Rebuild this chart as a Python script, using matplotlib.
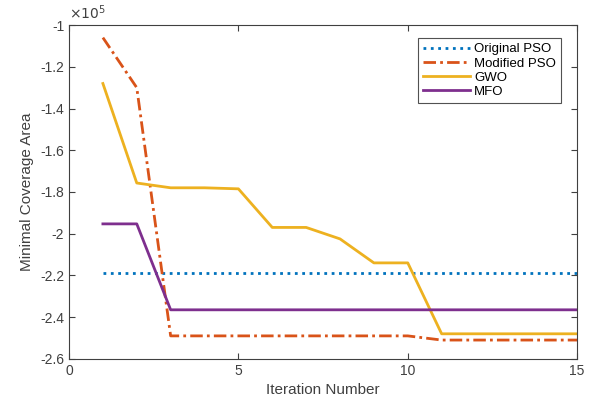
import matplotlib.pyplot as plt
from matplotlib.ticker import FuncFormatter

plt.rcParams['font.family'] = ['Liberation Sans', 'DejaVu Sans']
plt.rcParams['axes.unicode_minus'] = False

# values in units of 1e5
iterations = list(range(1, 16))
original_pso = [-2.19] * 15
modified_pso = [-1.06, -1.30, -2.49, -2.49, -2.49, -2.49, -2.49, -2.49, -2.49, -2.49,
                -2.51, -2.51, -2.51, -2.51, -2.51]
gwo = [-1.28, -1.757, -1.78, -1.78, -1.785, -1.97, -1.97, -2.025, -2.14, -2.14,
       -2.48, -2.48, -2.48, -2.48, -2.48]
mfo = [-1.953, -1.953, -2.365, -2.365, -2.365, -2.365, -2.365, -2.365, -2.365, -2.365,
       -2.365, -2.365, -2.365, -2.365, -2.365]
yticks = [-1, -1.2, -1.4, -1.6, -1.8, -2, -2.2, -2.4, -2.6]

fig = plt.figure(figsize=(5.95, 4.05), dpi=100)
ax = fig.add_axes([0.116, 0.114, 0.854, 0.824])

ax.plot(iterations, original_pso, linestyle=':', color='#0072BD', linewidth=2, label='Original PSO')
ax.plot(iterations, modified_pso, linestyle='-.', dashes=(4.5, 1.5, 1, 1.5), color='#D95319',
        linewidth=2, label='Modified PSO')
ax.plot(iterations, gwo, linestyle='-', color='#EDB120', linewidth=2, label='GWO')
ax.plot(iterations, mfo, linestyle='-', color='#7E2F8E', linewidth=2, label='MFO')

ax.set_xlim(0, 15)
ax.set_ylim(-2.6, -1)
ax.set_xticks([0, 5, 10, 15])
ax.set_yticks(yticks)
ax.yaxis.set_major_formatter(FuncFormatter(lambda v, p: f'{v:g}'))
ax.tick_params(direction='in', top=True, right=True, labelsize=10, colors='#404040',
               labelcolor='#404040', length=4)
for s in ax.spines.values():
    s.set_color('#404040')
    s.set_linewidth(0.8)

ax.set_xlabel('Iteration Number', fontsize=11, color='#404040')
ax.set_ylabel('Minimal Coverage Area', fontsize=11, color='#404040')
ax.text(0, 1.01, r'$\times10^5$', transform=ax.transAxes, fontsize=10, color='#404040',
        ha='left', va='bottom')

leg = ax.legend(loc='upper right', bbox_to_anchor=(0.969, 0.962), fontsize=9.5, frameon=True,
                fancybox=False, edgecolor='#262626', handlelength=3.6, borderaxespad=0,
                labelspacing=0.15, handletextpad=0.3, borderpad=0.4)
leg.get_frame().set_linewidth(0.8)

fig.savefig('out.png', dpi=100)
